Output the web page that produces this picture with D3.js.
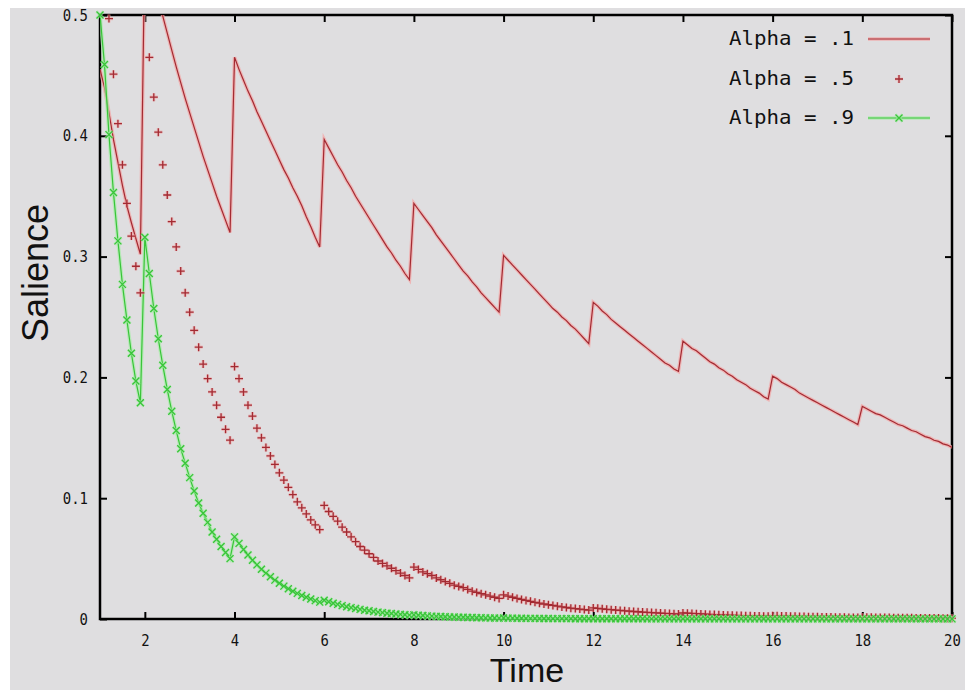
<!DOCTYPE html>
<html>
<head>
<meta charset="utf-8">
<script src="https://cdn.jsdelivr.net/npm/d3@7"></script>
<style>
  body { margin: 0; background: #fff; }
  svg { display: block; }
</style>
</head>
<body>
<svg id="chart" width="965" height="690"></svg>
<script>
// Sample times (step 0.1)
const time = [
  1.0,1.1,1.2,1.3,1.4,1.5,1.6,1.7,1.8,1.9,
  2.0,2.1,2.2,2.3,2.4,2.5,2.6,2.7,2.8,2.9,
  3.0,3.1,3.2,3.3,3.4,3.5,3.6,3.7,3.8,3.9,
  4.0,4.1,4.2,4.3,4.4,4.5,4.6,4.7,4.8,4.9,
  5.0,5.1,5.2,5.3,5.4,5.5,5.6,5.7,5.8,5.9,
  6.0,6.1,6.2,6.3,6.4,6.5,6.6,6.7,6.8,6.9,
  7.0,7.1,7.2,7.3,7.4,7.5,7.6,7.7,7.8,7.9,
  8.0,8.1,8.2,8.3,8.4,8.5,8.6,8.7,8.8,8.9,
  9.0,9.1,9.2,9.3,9.4,9.5,9.6,9.7,9.8,9.9,
  10.0,10.1,10.2,10.3,10.4,10.5,10.6,10.7,10.8,10.9,
  11.0,11.1,11.2,11.3,11.4,11.5,11.6,11.7,11.8,11.9,
  12.0,12.1,12.2,12.3,12.4,12.5,12.6,12.7,12.8,12.9,
  13.0,13.1,13.2,13.3,13.4,13.5,13.6,13.7,13.8,13.9,
  14.0,14.1,14.2,14.3,14.4,14.5,14.6,14.7,14.8,14.9,
  15.0,15.1,15.2,15.3,15.4,15.5,15.6,15.7,15.8,15.9,
  16.0,16.1,16.2,16.3,16.4,16.5,16.6,16.7,16.8,16.9,
  17.0,17.1,17.2,17.3,17.4,17.5,17.6,17.7,17.8,17.9,
  18.0,18.1,18.2,18.3,18.4,18.5,18.6,18.7,18.8,18.9,
  19.0,19.1,19.2,19.3,19.4,19.5,19.6,19.7,19.8,19.9,
  20.0
];

// Salience, alpha = .1
const alpha1 = [
  .455,.440,.419,.397,.378,.359,.342,.328,.315,.302,
  .560,.544,.529,.514,.499,.485,.471,.457,.444,.431,
  .419,.407,.395,.383,.372,.361,.350,.340,.330,.320,
  .465,.455,.446,.437,.429,.420,.412,.404,.396,.388,
  .380,.372,.365,.357,.350,.342,.333,.325,.316,.308,
  .397,.390,.383,.376,.370,.363,.357,.350,.344,.338,
  .332,.326,.320,.314,.308,.303,.297,.292,.286,.281,
  .344,.339,.334,.329,.324,.318,.313,.308,.303,.298,
  .293,.288,.284,.279,.275,.270,.266,.262,.258,.254,
  .301,.297,.293,.289,.285,.281,.277,.273,.269,.265,
  .261,.257,.254,.250,.247,.243,.240,.236,.232,.228,
  .262,.259,.255,.252,.248,.245,.242,.239,.236,.233,
  .230,.227,.224,.221,.218,.215,.212,.210,.207,.205,
  .230,.227,.224,.222,.219,.216,.213,.211,.208,.206,
  .203,.201,.198,.196,.194,.191,.189,.187,.184,.182,
  .201,.199,.196,.194,.192,.190,.187,.185,.183,.181,
  .179,.177,.175,.173,.171,.169,.167,.165,.163,.161,
  .176,.174,.172,.170,.169,.167,.165,.163,.161,.160,
  .158,.156,.155,.153,.151,.150,.148,.147,.145,.144,
  .142
];

// Salience, alpha = .5
const alpha5 = [
  .610,.549,.497,.451,.410,.376,.344,.317,.292,.270,
  .505,.465,.432,.403,.376,.351,.329,.308,.288,.270,
  .254,.239,.225,.211,.199,.188,.177,.167,.157,.148,
  .209,.199,.188,.177,.168,.158,.150,.142,.135,.128,
  .121,.115,.109,.103,.097,.092,.087,.082,.078,.074,
  .094,.089,.085,.081,.076,.072,.068,.064,.060,.057,
  .054,.051,.048,.046,.044,.042,.040,.038,.036,.034,
  .043,.041,.039,.0375,.036,.034,.0325,.031,.0295,.028,
  .027,.026,.0245,.023,.022,.021,.020,.019,.018,.017,
  .020,.019,.018,.017,.0162,.0154,.0146,.0138,.0131,.0124,
  .0118,.0112,.0106,.0100,.0095,.0090,.0086,.0082,.0078,.0074,
  .0092,.0088,.0084,.0080,.0077,.0074,.0071,.0068,.0065,.0062,
  .0060,.0057,.0055,.0053,.0051,.0049,.0047,.0045,.0043,.0041,
  .0050,.0048,.0046,.0044,.0042,.0040,.0038,.0037,.0035,.0034,
  .0032,.0031,.0030,.0028,.0027,.0026,.0025,.0024,.0023,.0022,
  .0027,.0026,.0025,.0024,.0023,.0022,.0021,.0020,.0019,.0018,
  .0018,.0017,.0016,.0016,.0015,.0014,.0014,.0013,.0013,.0012,
  .0015,.0014,.0014,.0013,.0013,.0012,.0012,.0011,.0011,.0010,
  .0010,.0010,.0009,.0009,.0009,.0008,.0008,.0008,.0007,.0007,
  .0007
];

// Salience, alpha = .9
const alpha9 = [
  .500,.459,.401,.353,.313,.277,.2475,.220,.197,.179,
  .316,.286,.257,.232,.210,.190,.172,.156,.141,.129,
  .117,.106,.096,.0875,.080,.072,.066,.060,.055,.050,
  .068,.0626,.0576,.053,.0487,.0448,.0412,.038,.035,.0322,
  .0296,.0272,.025,.023,.0212,.0195,.018,.0165,.0152,.014,
  .0155,.0143,.0131,.0121,.0111,.0102,.0094,.0087,.0080,.0073,
  .0068,.0062,.0057,.0053,.0048,.0045,.0041,.0038,.0035,.0032,
  .0034,.0031,.0029,.0026,.0024,.0022,.0020,.0019,.0017,.0016,
  .0015,.0014,.0013,.0012,.0011,.0010,.0009,.0008,.0008,.0007,
  .0008,.0007,.0007,.0006,.0006,.0005,.0005,.0005,.0004,.0004,
  .0004,.0003,.0003,.0003,.0003,.0003,.0002,.0002,.0002,.0002,
  .0002,.0002,.0002,.0002,.0002,.0002,.0002,.0002,.0002,.0002,
  .0002,.0002,.0001,.0001,.0001,.0001,.0001,.0001,.0001,.0001,
  .0001,.0001,.0001,.0001,.0001,.0001,.0001,.0001,.0001,.0001,
  .0001,.0001,.0001,.0001,.0001,.0001,.0001,.0001,.0001,.0001,
  .0001,.0001,.0001,.0001,.0001,.0001,.0001,.0001,.0001,.0001,
  .0001,.0001,.0001,.0001,.0001,.0001,.0001,.0001,.0001,.0001,
  .0001,.0001,.0001,.0001,.0001,.0001,.0001,.0001,.0001,.0001,
  .0001,.0001,.0001,.0001,.0001,.0001,.0001,.0001,.0001,.0001,
  .0001
];

const seriesNames = ["Alpha = .1", "Alpha = .5", "Alpha = .9"];
const xTicks = [2, 4, 6, 8, 10, 12, 14, 16, 18, 20];
const yTicks = [0, 0.1, 0.2, 0.3, 0.4, 0.5];
const yTickLabels = ["0", "0.1", "0.2", "0.3", "0.4", "0.5"];
const xTitle = "Time";
const yTitle = "Salience";

// ---- layout ----
const W = 965, H = 690;
const P = { left: 100, right: 952, top: 15, bottom: 619 };
const BG = "#dfdee0";
const RED = "#a32a32", RED_HALO = "#f3a7a7";
const GREEN = "#39c439", GREEN_HALO = "#a9eca9";
const MONO = "'DejaVu Sans Mono', 'Liberation Mono', monospace";
const SANS = "'Liberation Sans', Arial, sans-serif";

const svg = d3.select("#chart");
svg.append("rect").attr("width", W).attr("height", H).attr("fill", "#fff");
svg.append("rect").attr("x", 10).attr("y", 8).attr("width", W - 10).attr("height", H - 8).attr("fill", BG);

const x = d3.scaleLinear().domain([1, 20]).range([P.left, P.right]);
const y = d3.scaleLinear().domain([0, 0.5]).range([P.bottom, P.top]);

svg.append("clipPath").attr("id", "plotClip")
  .append("rect").attr("x", P.left).attr("y", P.top)
  .attr("width", P.right - P.left).attr("height", P.bottom - P.top);

// ---- axes (ticks on all four sides, pointing inward) ----
function styleAxis(g) {
  g.select(".domain").remove();
  g.selectAll(".tick line").attr("stroke", "#000").attr("stroke-width", 2);
  g.selectAll(".tick text")
    .attr("fill", "#111")
    .style("font-family", MONO)
    .style("font-size", "16px")
    .attr("textLength", function () { return this.textContent.length * 8.4; })
    .attr("lengthAdjust", "spacingAndGlyphs");
}

svg.append("g").attr("transform", `translate(0,${P.bottom})`)
  .call(d3.axisBottom(x).tickValues(xTicks).tickSize(-7).tickPadding(16).tickFormat(d3.format("d")))
  .call(styleAxis);
svg.append("g").attr("transform", `translate(0,${P.top})`)
  .call(d3.axisTop(x).tickValues(xTicks).tickSize(-7).tickFormat(""))
  .call(styleAxis);
svg.append("g").attr("transform", `translate(${P.left},0)`)
  .call(d3.axisLeft(y).tickValues(yTicks).tickSize(-7).tickPadding(12)
    .tickFormat((d, i) => yTickLabels[i]))
  .call(styleAxis);
svg.append("g").attr("transform", `translate(${P.right},0)`)
  .call(d3.axisRight(y).tickValues(yTicks).tickSize(-7).tickFormat(""))
  .call(styleAxis);

svg.append("rect")
  .attr("x", P.left).attr("y", P.top)
  .attr("width", P.right - P.left).attr("height", P.bottom - P.top)
  .attr("fill", "none").attr("stroke", "#000").attr("stroke-width", 2.5);

// axis titles
svg.append("text")
  .attr("x", (P.left + P.right) / 2 + 1).attr("y", 682)
  .attr("text-anchor", "middle")
  .style("font-family", SANS).style("font-size", "34px").attr("fill", "#111")
  .text(xTitle);
svg.append("text")
  .attr("transform", "translate(48,273) rotate(-90)")
  .attr("text-anchor", "middle")
  .style("font-family", SANS).style("font-size", "36px").attr("fill", "#111")
  .text(yTitle);

// ---- data ----
const rows = arr => time.map((t, i) => ({ t, v: arr[i] }));
const inRange = d => d.v >= 0 && d.v <= 0.5;
const line = d3.line().x(d => x(d.t)).y(d => y(d.v));
const plusPath = "M-4,0H4M0,-4V4";
const crossPath = "M-3.5,-3.5L3.5,3.5M-3.5,3.5L3.5,-3.5";

const plot = svg.append("g");
const clipped = plot.append("g").attr("clip-path", "url(#plotClip)");

// alpha = .1 : line
const d1 = rows(alpha1);
clipped.append("path").datum(d1).attr("d", line)
  .attr("fill", "none").attr("stroke", RED_HALO).attr("stroke-width", 3.6).attr("stroke-opacity", 0.75);
clipped.append("path").datum(d1).attr("d", line)
  .attr("fill", "none").attr("stroke", RED).attr("stroke-width", 1.2);

// alpha = .5 : points
const d5 = rows(alpha5).filter(inRange);
function marks(g, data, shape, core, halo) {
  g.append("g").selectAll("path").data(data).join("path")
    .attr("transform", d => `translate(${x(d.t)},${y(d.v)})`)
    .attr("d", shape).attr("fill", "none")
    .attr("stroke", halo).attr("stroke-width", 3.2).attr("stroke-opacity", 0.6);
  g.append("g").selectAll("path").data(data).join("path")
    .attr("transform", d => `translate(${x(d.t)},${y(d.v)})`)
    .attr("d", shape).attr("fill", "none")
    .attr("stroke", core).attr("stroke-width", 1.3);
}
marks(plot, d5, plusPath, RED, RED_HALO);

// alpha = .9 : line with points
const d9 = rows(alpha9);
clipped.append("path").datum(d9).attr("d", line)
  .attr("fill", "none").attr("stroke", GREEN_HALO).attr("stroke-width", 3.6).attr("stroke-opacity", 0.75);
clipped.append("path").datum(d9).attr("d", line)
  .attr("fill", "none").attr("stroke", GREEN).attr("stroke-width", 1.2);
marks(plot, d9.filter(inRange), crossPath, GREEN, GREEN_HALO);

// ---- key ----
const key = svg.append("g");
const keyRows = [39, 79, 118];
seriesNames.forEach((name, i) => {
  key.append("text")
    .attr("x", 854).attr("y", keyRows[i] + 6)
    .attr("text-anchor", "end")
    .style("font-family", MONO).style("font-size", "20px").attr("fill", "#111")
    .attr("textLength", 125).attr("lengthAdjust", "spacingAndGlyphs")
    .text(name);
});
const sample = d3.line().x(d => d[0]).y(d => d[1]);
key.append("path").attr("d", sample([[868, keyRows[0]], [930, keyRows[0]]]))
  .attr("stroke", RED_HALO).attr("stroke-width", 3.6).attr("stroke-opacity", 0.75);
key.append("path").attr("d", sample([[868, keyRows[0]], [930, keyRows[0]]]))
  .attr("stroke", RED).attr("stroke-width", 1.2);
marks(key, [{ t: x.invert(899), v: y.invert(keyRows[1]) }], plusPath, RED, RED_HALO);
key.append("path").attr("d", sample([[868, keyRows[2]], [930, keyRows[2]]]))
  .attr("stroke", GREEN_HALO).attr("stroke-width", 3.6).attr("stroke-opacity", 0.75);
key.append("path").attr("d", sample([[868, keyRows[2]], [930, keyRows[2]]]))
  .attr("stroke", GREEN).attr("stroke-width", 1.2);
marks(key, [{ t: x.invert(899), v: y.invert(keyRows[2]) }], crossPath, GREEN, GREEN_HALO);
</script>
</body>
</html>
